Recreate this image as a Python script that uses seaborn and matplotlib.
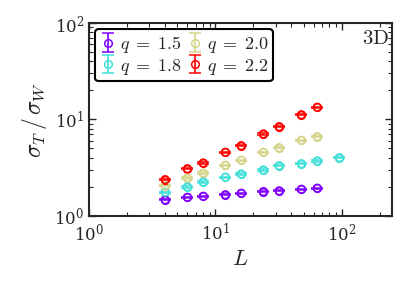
import numpy as np
import pandas as pd
import matplotlib
matplotlib.use('Agg')
import matplotlib.pyplot as plt
import seaborn as sns

# system sizes and ratio sigma_T / sigma_W
L_vals = [4, 6, 8, 12, 16, 24, 32, 48, 64, 96]
q_labels = ['1.5', '1.8', '2.0', '2.2']
ratio_q15 = [1.47, 1.56, 1.60, 1.66, 1.72, 1.79, 1.82, 1.89, 1.94]
ratio_q18 = [1.76, 2.00, 2.25, 2.52, 2.72, 3.00, 3.32, 3.48, 3.72, 4.02]
ratio_q20 = [2.06, 2.48, 2.79, 3.35, 3.78, 4.57, 5.10, 6.09, 6.63]
ratio_q22 = [2.38, 3.09, 3.54, 4.57, 5.35, 7.08, 8.43, 11.2, 13.4]
colors = ['#8000ff', '#40e0d8', '#d4d48a', '#ff0000']

rows = []
for q, vals in zip(q_labels, [ratio_q15, ratio_q18, ratio_q20, ratio_q22]):
    for L, r in zip(L_vals, vals):
        rows.append({'L': L, 'ratio': r, 'q': q})
df = pd.DataFrame(rows)

sns.set_style('ticks')
plt.rcParams['mathtext.fontset'] = 'cm'
plt.rcParams['font.family'] = ['DejaVu Serif']

fig = plt.figure(figsize=(4.07, 2.91), dpi=100)
ax = fig.add_axes([0.219, 0.258, 0.744, 0.663])

# open circles with seaborn
sns.scatterplot(data=df, x='L', y='ratio', hue='q', palette=colors,
                marker='o', s=30, linewidth=1.1, legend=False, ax=ax, zorder=3)
coll = ax.collections[0]
pt_colors = [colors[q_labels.index(q)] for q in df['q']]
coll.set_edgecolor(pt_colors)
coll.set_facecolor('none')

# error caps
for q, c in zip(q_labels, colors):
    d = df[df['q'] == q]
    ax.errorbar(d['L'], d['ratio'], yerr=0.015 * d['ratio'], fmt='o', ms=5.5,
                mfc='none', mec=c, mew=1.1, color=c, capsize=4.5, capthick=1.5,
                elinewidth=1.2, label=r'$q\;=\;%s$' % q)

ax.set_xscale('log')
ax.set_yscale('log')
ax.set_xlim(1, 250)
ax.set_ylim(1, 100)
ax.set_xlabel(r'$L$', fontsize=16, labelpad=2)
ax.set_ylabel(r'$\sigma_T\,/\,\sigma_W$', fontsize=17, labelpad=4)
ax.tick_params(which='both', direction='in', top=True, right=True, labelsize=12)
ax.tick_params(which='major', length=5, width=1)
ax.tick_params(which='minor', length=3, width=0.8)
for s in ax.spines.values():
    s.set_linewidth(1.5)
ax.xaxis.set_tick_params(pad=5)

ax.text(0.99, 0.92, r'$\mathrm{3D}$', transform=ax.transAxes,
        ha='right', va='center', fontsize=15)

leg = ax.legend(loc='upper left', ncol=2, fontsize=13, frameon=True,
                fancybox=True, handlelength=0.9, handletextpad=0.2,
                columnspacing=0.3, borderpad=0.25, labelspacing=0.1,
                borderaxespad=0.35)
leg.get_frame().set_edgecolor('black')
leg.get_frame().set_linewidth(1.5)
leg.get_frame().set_alpha(1)

fig.savefig('out.png', dpi=100)
